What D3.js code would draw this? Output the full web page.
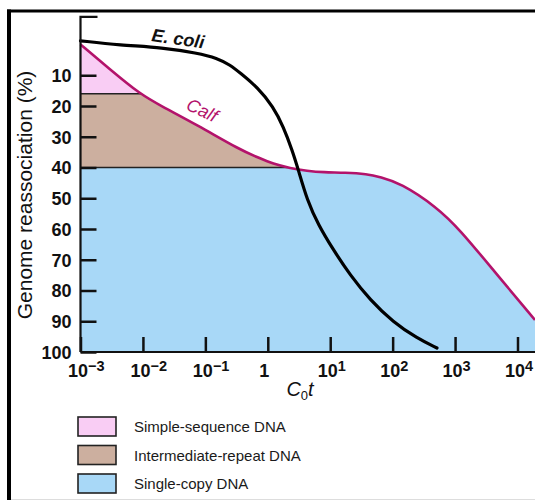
<!DOCTYPE html>
<html>
<head>
<meta charset="utf-8">
<script src="https://cdn.jsdelivr.net/npm/d3@7"></script>
<style>
  html, body { margin: 0; padding: 0; background: #fff; }
  svg { display: block; font-family: "Liberation Sans", Arial, Helvetica, sans-serif; }
</style>
</head>
<body>
<svg id="chart" width="535" height="500"></svg>
<script>
// Reassociation (C0t) curves: log10(C0t) against percent of genome reassociated
const ecoliLogCot = [-3.0, -2.37, -1.68, -1.13, -0.81, -0.6, -0.44, -0.17, 0.09, 0.25, 0.39, 0.49, 0.63, 0.81, 1.05, 1.32, 1.64, 2.01, 2.39, 2.71];
const ecoliPct    = [-1.2, 0.2, 1.0, 2.8, 4.4, 6.7, 9.3, 13.8, 20.3, 26.8, 34.3, 40.8, 50.6, 58.7, 66.8, 75.0, 83.1, 90.3, 95.5, 98.7];

const calfLogCot = [-3.0, -2.53, -2.05, -1.68, -1.13, -0.44, -0.17, 0.09, 0.36, 0.63, 0.89, 1.24, 1.59, 1.8, 2.12, 2.71, 3.08, 3.61, 4.28];
const calfPct    = [0, 8.0, 16.1, 20.3, 26.2, 34.3, 36.6, 38.9, 40.2, 41.1, 41.6, 41.6, 42.1, 43.1, 45.0, 52.9, 60.3, 73.3, 89.6];

// Genome fractions (percent boundaries) and their legend entries
const fractionBounds = [0, 16, 40, 100];
const fractionNames  = ["Simple-sequence DNA", "Intermediate-repeat DNA", "Single-copy DNA"];
const fractionColors = ["#f9cdf4", "#ccaf9f", "#a8d8f7"];

// Axis ticks
const xTickExponents = [-3, -2, -1, 0, 1, 2, 3, 4];
const yTickValues    = [10, 20, 30, 40, 50, 60, 70, 80, 90, 100];

const W = 535, H = 500;
const calfColor = "#b3136b";

const svg = d3.select("#chart");

const x = d3.scaleLog().domain([1e-3, 1e4]).range([80.5, 517.5]);
const y = d3.scaleLinear().domain([0, 100]).range([44.5, 352]);
const x0 = x(1e-3), xRight = W;
const yAxisTopPct = -9;

const pts = (logs, pcts) => logs.map((v, i) => [Math.pow(10, v), pcts[i]]);
const calf = pts(calfLogCot, calfPct);
const ecoli = pts(ecoliLogCot, ecoliPct);

// Outer frame
svg.append("rect").attr("x", 7).attr("y", 9.5).attr("width", 4).attr("height", H - 9.5).attr("fill", "#000");
svg.append("rect").attr("x", 7).attr("y", 9.5).attr("width", W - 7).attr("height", 3).attr("fill", "#000");
svg.append("line").attr("x1", 11).attr("x2", W).attr("y1", 499.5).attr("y2", 499.5).attr("stroke", "#ddd");

// Region beneath the calf curve, used to clip the fraction bands
const underCalf = d3.area()
  .x(d => x(d[0]))
  .y0(y(100))
  .y1(d => y(d[1]))
  .curve(d3.curveBasis);

svg.append("defs").append("clipPath").attr("id", "under-calf")
  .append("path").attr("d", underCalf(calf));

const bands = svg.append("g").attr("clip-path", "url(#under-calf)");
fractionNames.forEach((name, i) => {
  bands.append("rect")
    .attr("x", x0).attr("width", xRight - x0)
    .attr("y", y(fractionBounds[i]))
    .attr("height", y(fractionBounds[i + 1]) - y(fractionBounds[i]))
    .attr("fill", fractionColors[i]);
});
// Divider lines between fractions
fractionBounds.slice(1, -1).forEach(b => {
  bands.append("line")
    .attr("x1", x0).attr("x2", xRight)
    .attr("y1", y(b)).attr("y2", y(b))
    .attr("stroke", "#222").attr("stroke-width", 1.5);
});

// Curves
const line = d3.line().x(d => x(d[0])).y(d => y(d[1])).curve(d3.curveBasis);
svg.append("path").attr("d", line(calf))
  .attr("fill", "none").attr("stroke", calfColor).attr("stroke-width", 2.6);
svg.append("path").attr("d", line(ecoli))
  .attr("fill", "none").attr("stroke", "#000").attr("stroke-width", 3.2).attr("stroke-linecap", "round");

// Y axis
const yAxis = d3.axisLeft(y).tickValues(yTickValues).tickSizeInner(-16).tickSizeOuter(0).tickPadding(9);
const gy = svg.append("g").attr("transform", `translate(${x0},0)`).call(yAxis)
  .attr("font-family", null).attr("font-size", null);
gy.select(".domain").remove();
gy.selectAll(".tick line").attr("stroke", "#111").attr("stroke-width", 2.5);
gy.selectAll(".tick text").attr("font-size", 18).attr("font-weight", "bold").attr("fill", "#111").attr("dy", "0.36em");
svg.append("path")
  .attr("d", `M${x0 + 17},${y(yAxisTopPct)}H${x0}V${y(100)}`)
  .attr("fill", "none").attr("stroke", "#111").attr("stroke-width", 2.2);

// X axis: powers of ten with raised exponents
const xAxis = d3.axisBottom(x).tickValues(xTickExponents.map(e => Math.pow(10, e)))
  .tickSizeInner(-15).tickSizeOuter(0).tickFormat(() => "");
const gx = svg.append("g").attr("transform", `translate(0,${y(100)})`).call(xAxis)
  .attr("font-family", null).attr("font-size", null);
gx.select(".domain").remove();
gx.selectAll(".tick line").attr("stroke", "#111").attr("stroke-width", 2.5);
gx.selectAll(".tick text").remove();
gx.selectAll(".tick").each(function(d) {
  const e = Math.round(Math.log10(d));
  const t = d3.select(this).append("text")
    .attr("y", 25)
    .attr("font-size", 18).attr("font-weight", "bold").attr("fill", "#111");
  if (e === 0) {
    t.attr("x", -4).attr("text-anchor", "middle").text("1");
  } else {
    t.attr("x", -13).attr("text-anchor", "start");
    t.append("tspan").text("10");
    t.append("tspan").attr("dy", -6).attr("font-size", 14.5)
      .text(e < 0 ? "\u2212" + (-e) : String(e));
  }
});
svg.append("line").attr("x1", x0).attr("x2", xRight).attr("y1", y(100)).attr("y2", y(100))
  .attr("stroke", "#111").attr("stroke-width", 2.2);

// Axis titles
svg.append("text")
  .attr("transform", "translate(32,195) rotate(-90)")
  .attr("text-anchor", "middle").attr("font-size", 21).attr("fill", "#111")
  .text("Genome reassociation (%)");

const xt = svg.append("text").attr("x", 300).attr("y", 396)
  .attr("text-anchor", "middle").attr("font-size", 20).attr("fill", "#111");
xt.append("tspan").attr("font-style", "italic").text("C");
xt.append("tspan").attr("font-size", 13).attr("dy", 4).text("0");
xt.append("tspan").attr("font-style", "italic").attr("dy", -4).text("t");

// Curve labels
svg.append("text").attr("transform", "translate(151,41) rotate(8)")
  .attr("font-size", 18).attr("font-style", "italic").attr("font-weight", "bold").attr("fill", "#111")
  .text("E. coli");
svg.append("text").attr("transform", "translate(185,109) rotate(25)")
  .attr("font-size", 18).attr("font-style", "italic").attr("fill", calfColor)
  .text("Calf");

// Legend
const legend = svg.append("g");
fractionNames.forEach((name, i) => {
  const top = 417 + i * 28.5;
  legend.append("rect").attr("x", 78).attr("y", top).attr("width", 38).attr("height", 19)
    .attr("fill", fractionColors[i]).attr("stroke", "#222").attr("stroke-width", 1.6);
  legend.append("text").attr("x", 134).attr("y", top + 15)
    .attr("font-size", 15).attr("fill", "#1a1a1a").text(name);
});
</script>
</body>
</html>
